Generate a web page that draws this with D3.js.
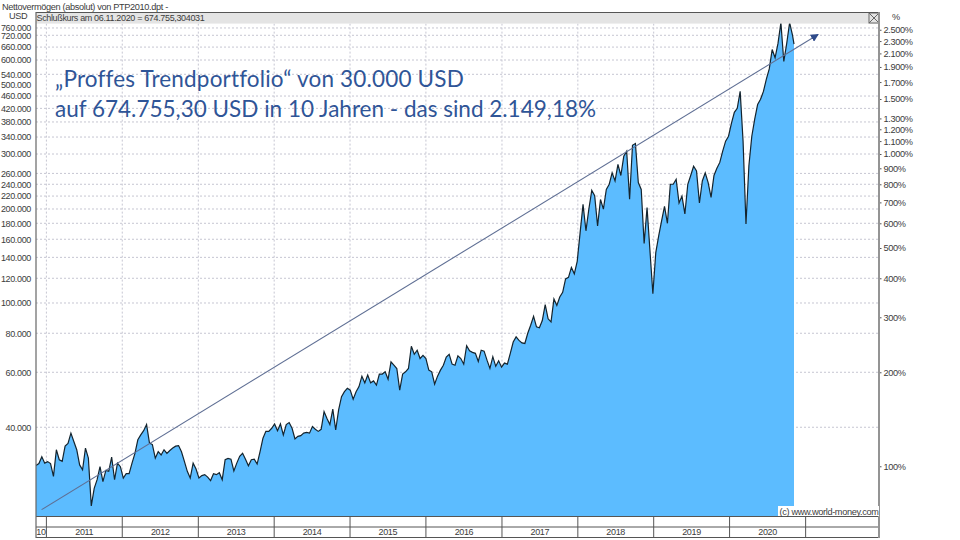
<!DOCTYPE html>
<html>
<head>
<meta charset="utf-8">
<title>Nettovermögen PTP2010</title>
<script src="https://cdn.jsdelivr.net/npm/d3@7"></script>
<style>
  html, body { margin: 0; padding: 0; background: #fff; }
  svg { display: block; }
  text { font-family: "Liberation Sans", Arial, sans-serif; fill: #3c3c3c; letter-spacing: -0.35px; }
</style>
</head>
<body>
<div id="chart"></div>
<script>
// Portfolio value in USD, one reading every 14 days
var startDate = new Date(2010, 10, 12);
var stepDays = 14;
var closeDate = new Date(2020, 10, 6);
var closeValue = 674755.30;
var portfolioValues = [
  30200, 30600, 32200, 30700, 31050, 30600, 27850, 33880, 31480, 31100,
  34800, 35500, 38300, 36000, 33900, 30300, 29240, 34300, 31850, 22400,
  25500, 27170, 29900, 26800, 29100, 28900, 32100, 27170, 30700, 29900,
  27500, 28400, 28400, 30700, 33000, 36470, 37800, 39000, 40800, 35600,
  35200, 31850, 33400, 32600, 33880, 33000, 33700, 34300, 34800, 34950,
  33400, 31100, 28900, 27500, 30700, 29400, 27500, 28000, 28200, 27700,
  27000, 28400, 28200, 28600, 27170, 31480, 31800, 31600, 29000, 30700,
  32300, 33000, 31600, 30100, 31480, 31600, 30500, 33400, 36900, 38800,
  38800, 39700, 41000, 39000, 41000, 37800, 40800, 41400, 39700, 36700,
  37400, 37600, 38300, 38500, 38300, 40200, 39400, 38800, 39400, 44900,
  42700, 40800, 45700, 39200, 45450, 50100, 52000, 53300, 52600, 49200,
  52000, 54000, 58300, 55500, 58800, 55500, 56300, 54600, 59200, 59200,
  60200, 57000, 64800, 63200, 61700, 52600, 59200, 60200, 61700, 72700,
  68500, 70600, 66400, 68000, 66400, 60950, 60200, 55000, 58300, 60950,
  63200, 67100, 68500, 63700, 63200, 67700, 66400, 63700, 73000, 70300,
  69500, 69000, 65000, 70600, 70100, 65600, 61700, 67300, 62700, 65300,
  62300, 64200, 63700, 69000, 75000, 77900, 75900, 74500, 74200, 80000,
  84900, 90600, 83900, 83300, 87900, 98800, 89000, 87000, 103000, 98200,
  104500, 108200, 119400, 120800, 130000, 124000, 136000, 168000, 207000, 170300,
  200000, 229500, 220500, 176500, 214500, 199700, 231000, 240000, 261000, 246000,
  278000, 256000, 295000, 306000, 215000, 320000, 324000, 243000, 231000, 155000,
  202000, 147000, 107000, 145000, 164000, 183300, 204000, 180000, 240000, 240000,
  249000, 209000, 220000, 193000, 240000, 256000, 274000, 264600, 209000, 245900,
  261000, 243000, 218000, 256000, 270000, 282000, 306500, 329800, 342000, 376000,
  408000, 420000, 476000, 329800, 179000, 275000, 342000, 388000, 432000, 449000,
  476000, 521000, 562000, 648000, 610000, 678000, 790000, 593500, 678000, 790000,
  720000
];

// Axis labels and grid
var years = [2011, 2012, 2013, 2014, 2015, 2016, 2017, 2018, 2019, 2020];
var usdTicks = [760000, 720000, 660000, 600000, 540000, 500000, 460000, 420000, 380000, 340000,
  300000, 260000, 240000, 220000, 200000, 180000, 160000, 140000, 120000, 100000, 80000, 60000, 40000];
var usdGrid = usdTicks.filter(d => d != 500000);
var pctTicks = [2500, 2300, 2100, 1900, 1700, 1500, 1300, 1200, 1100, 1000,
  900, 800, 700, 600, 500, 400, 300, 200, 100];
var baseValue = 30000;

// Trend arrow end points
var trendDates = [new Date(2010, 11, 9), new Date(2021, 2, 2)];
var trendValues = [21790, 724000];

var width = 960, height = 540;
var plotLeft = 36, plotRight = 879, plotTop = 12, bandBottom = 23.6, plotBottom = 516, stripMid = 526.5, stripBottom = 537;
var usdMin = 20790, usdMax = 784800;

var svg = d3.select("#chart").append("svg").attr("width", width).attr("height", height);

var x = d3.scaleTime().domain([new Date(2010, 10, 12), new Date(2021, 11, 20)]).range([plotLeft, plotRight]);
var y = d3.scaleLog().domain([usdMin, usdMax]).range([plotBottom, bandBottom]);
var yPct = d3.scaleLog().domain([usdMin / baseValue * 100, usdMax / baseValue * 100]).range([plotBottom, bandBottom]);

var de = d3.formatLocale({ decimal: ",", thousands: ".", grouping: [3], currency: ["", ""] });
var fmt = de.format(",d");

var series = portfolioValues.map((v, i) => ({ date: d3.timeDay.offset(startDate, i * stepDays), value: v }));
series.push({ date: closeDate, value: closeValue });

svg.append("defs").append("clipPath").attr("id", "plot")
  .append("rect").attr("x", plotLeft).attr("y", plotTop).attr("width", plotRight - plotLeft).attr("height", plotBottom - plotTop);

svg.select("defs").append("marker").attr("id", "head")
  .attr("viewBox", "0 0 10 10").attr("refX", 9).attr("refY", 5)
  .attr("markerWidth", 8).attr("markerHeight", 8).attr("markerUnits", "userSpaceOnUse").attr("orient", "auto")
  .append("path").attr("d", "M0,0L10,5L0,10z").attr("fill", "#2f4b8a");

// Grid
svg.append("g").selectAll("line").data(usdGrid).join("line")
  .attr("x1", plotLeft).attr("x2", plotRight).attr("y1", d => y(d)).attr("y2", d => y(d))
  .attr("stroke", "#c6c6d2").attr("stroke-dasharray", "2 2");
svg.append("g").selectAll("line").data(years).join("line")
  .attr("x1", d => x(new Date(d, 0, 1))).attr("x2", d => x(new Date(d, 0, 1)))
  .attr("y1", bandBottom).attr("y2", plotBottom)
  .attr("stroke", "#c6c6d2").attr("stroke-dasharray", "2 2");

// Area and line
var plot = svg.append("g").attr("clip-path", "url(#plot)");
plot.append("path").datum(series)
  .attr("fill", "#5cbcff")
  .attr("d", d3.area().x(d => x(d.date)).y0(plotBottom).y1(d => y(d.value)));
plot.append("path").datum(series)
  .attr("fill", "none").attr("stroke", "#14242e").attr("stroke-width", 1.2)
  .attr("d", d3.line().x(d => x(d.date)).y(d => y(d.value)));

// Header band
svg.append("rect").attr("x", plotLeft).attr("y", plotTop).attr("width", plotRight - plotLeft).attr("height", bandBottom - plotTop).attr("fill", "#e4e4e4");
svg.append("text").attr("x", plotLeft + 0.5).attr("y", 21).attr("font-size", 9).text("Schlußkurs am 06.11.2020 = 674.755,304031");
svg.append("text").attr("x", 2).attr("y", 10).attr("font-size", 9.2).text("Nettovermögen (absolut) von PTP2010.dpt -");
svg.append("text").attr("x", 9).attr("y", 19).attr("font-size", 9.2).text("USD");
svg.append("text").attr("x", 892).attr("y", 20).attr("font-size", 9.2).text("%");

// Close box
var box = svg.append("g").attr("stroke", "#666").attr("fill", "none");
box.append("rect").attr("x", 869).attr("y", plotTop + 1).attr("width", 10).attr("height", 10);
box.append("path").attr("d", "M869,13L879,23M879,13L869,23");

// Trend arrow
svg.append("line")
  .attr("x1", x(trendDates[0])).attr("y1", y(trendValues[0]))
  .attr("x2", x(trendDates[1])).attr("y2", y(trendValues[1]))
  .attr("stroke", "#5f6f94").attr("stroke-width", 1.1).attr("marker-end", "url(#head)");

// Axes
var usdAxis = svg.append("g").attr("transform", `translate(${plotLeft},0)`)
  .call(d3.axisLeft(y).tickValues(usdTicks).tickFormat(fmt).tickSize(0).tickPadding(5));
usdAxis.select(".domain").remove();
usdAxis.selectAll("text").attr("font-size", 9).style("font-family", "Liberation Sans");

var pctAxis = svg.append("g").attr("transform", `translate(${plotRight},0)`)
  .call(d3.axisRight(yPct).tickValues(pctTicks).tickFormat(d => fmt(d) + "%").tickSize(2.5).tickPadding(2));
pctAxis.select(".domain").remove();
pctAxis.selectAll("line").attr("stroke", "#555");
pctAxis.selectAll("text").attr("font-size", 9.2).style("font-family", "Liberation Sans");

// Frame
svg.append("g").attr("stroke", "#555").attr("stroke-width", 1).selectAll("line")
  .data([plotTop, plotBottom, stripMid, stripBottom]).join("line")
  .attr("x1", plotLeft).attr("x2", plotRight).attr("y1", d => d + 0.5).attr("y2", d => d + 0.5);
svg.append("line").attr("x1", plotLeft).attr("x2", plotLeft).attr("y1", plotTop).attr("y2", stripBottom + 1)
  .attr("stroke", "#666").attr("stroke-width", 1.2);
svg.append("line").attr("x1", plotRight).attr("x2", plotRight).attr("y1", plotTop).attr("y2", stripBottom + 1)
  .attr("stroke", "#949494").attr("stroke-width", 2);

// Year strip
var yearEdges = years.concat([2021]);
svg.append("g").selectAll("line").data(yearEdges).join("line")
  .attr("x1", d => x(new Date(d, 0, 1))).attr("x2", d => x(new Date(d, 0, 1)))
  .attr("y1", plotBottom).attr("y2", stripBottom)
  .attr("stroke", "#555");
svg.append("g").selectAll("text").data(years).join("text")
  .attr("x", d => x(new Date(d, 6, 2))).attr("y", 535)
  .attr("text-anchor", "middle").attr("font-size", 9).text(d => d);
svg.append("text").attr("x", 41).attr("y", 535).attr("text-anchor", "middle").attr("font-size", 9).text("10");

// Copyright note
svg.append("rect").attr("x", 778).attr("y", 506).attr("width", 101).attr("height", 10).attr("fill", "#fff");
svg.append("text").attr("x", 878.5).attr("y", 515).attr("text-anchor", "end").attr("font-size", 9.2).text("(c) www.world-money.com");

// Annotation
var note = svg.append("g").attr("font-size", 22.5);
note.append("text").attr("x", 55).attr("y", 87).style("font-family", "Lato").style("fill", "#2f5597").style("letter-spacing", "0.17px").text("„Proffes Trendportfolio“ von 30.000 USD");
note.append("text").attr("x", 55).attr("y", 117).style("font-family", "Lato").style("fill", "#2f5597").style("letter-spacing", "0").text("auf 674.755,30 USD in 10 Jahren - das sind 2.149,18%");
</script>
</body>
</html>
